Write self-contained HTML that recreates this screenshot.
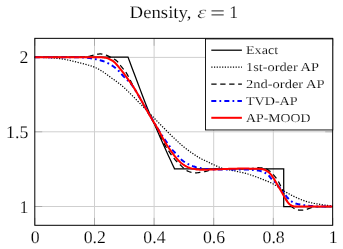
<!DOCTYPE html>
<html><head><meta charset="utf-8"><title>Density</title>
<style>
html,body{margin:0;padding:0;background:#fff;}
body{width:343px;height:249px;overflow:hidden;}
svg{display:block;will-change:transform;text-rendering:geometricPrecision;}
text{font-family:"Liberation Serif",serif;font-size:17.8px;fill:#000;stroke:#fff;stroke-width:0.16px;}
.lg{font-size:12.1px;stroke-width:0.14px;}
.tt{font-size:17.7px;}
.grid line{stroke:#cfcfcf;stroke-width:1;}
.ticks line{stroke:#909090;stroke-width:0.6;}
path{fill:none;stroke-linejoin:round;}
.ex{stroke:#000;stroke-width:1.25;stroke-linejoin:miter;}
.dt{stroke:#000;stroke-width:1.25;stroke-dasharray:1.2 1.5;}
.ds{stroke:#000;stroke-width:1.25;stroke-dasharray:5.3 3.65;}
.bl{stroke:#0000ff;stroke-width:2.0;stroke-dasharray:5.0 3.15 1.75 3.15;}
.rd{stroke:#ff0000;stroke-width:2.0;}
</style></head><body>
<svg width="343" height="249" viewBox="0 0 343 249">
<rect width="343" height="249" fill="#fff"/>
<g class="grid"><line x1="94.5" y1="38.35" x2="94.5" y2="225.3"/><line x1="154.1" y1="38.35" x2="154.1" y2="225.3"/><line x1="213.7" y1="38.35" x2="213.7" y2="225.3"/><line x1="273.3" y1="38.35" x2="273.3" y2="225.3"/><line x1="34.8" y1="206.5" x2="332.65" y2="206.5"/><line x1="34.8" y1="131.8" x2="332.65" y2="131.8"/><line x1="34.8" y1="57.4" x2="332.65" y2="57.4"/></g>
<g class="ticks"><line x1="34.9" y1="225.3" x2="34.9" y2="217.9"/><line x1="34.9" y1="38.35" x2="34.9" y2="45.75"/><line x1="94.5" y1="225.3" x2="94.5" y2="217.9"/><line x1="94.5" y1="38.35" x2="94.5" y2="45.75"/><line x1="154.1" y1="225.3" x2="154.1" y2="217.9"/><line x1="154.1" y1="38.35" x2="154.1" y2="45.75"/><line x1="213.7" y1="225.3" x2="213.7" y2="217.9"/><line x1="213.7" y1="38.35" x2="213.7" y2="45.75"/><line x1="273.3" y1="225.3" x2="273.3" y2="217.9"/><line x1="273.3" y1="38.35" x2="273.3" y2="45.75"/><line x1="332.9" y1="225.3" x2="332.9" y2="217.9"/><line x1="332.9" y1="38.35" x2="332.9" y2="45.75"/><line x1="34.8" y1="206.5" x2="42.199999999999996" y2="206.5"/><line x1="332.65" y1="206.5" x2="325.25" y2="206.5"/><line x1="34.8" y1="131.8" x2="42.199999999999996" y2="131.8"/><line x1="332.65" y1="131.8" x2="325.25" y2="131.8"/><line x1="34.8" y1="57.4" x2="42.199999999999996" y2="57.4"/><line x1="332.65" y1="57.4" x2="325.25" y2="57.4"/></g>
<path class="ex" d="M34.80,57.10 L128.00,57.10 L130.02,62.53 L132.04,67.91 L134.05,73.24 L136.04,78.51 L138.01,83.73 L139.94,88.90 L141.84,94.02 L143.75,99.08 L145.70,104.09 L147.73,109.05 L149.84,113.96 L151.98,118.81 L154.11,123.61 L156.22,128.35 L158.29,133.05 L160.33,137.69 L162.37,142.28 L164.39,146.81 L166.41,151.30 L168.43,155.73 L170.46,160.11 L172.48,164.43 L174.50,168.70 L174.50,168.80 L283.70,168.80 L283.70,206.60 L332.65,206.60"/>
<path class="dt" d="M34.80,57.30 L35.80,57.31 L36.80,57.31 L37.80,57.32 L38.80,57.34 L39.80,57.36 L40.80,57.38 L41.80,57.41 L42.80,57.44 L43.80,57.46 L44.80,57.50 L45.80,57.53 L46.80,57.57 L47.80,57.62 L48.80,57.68 L49.80,57.74 L50.80,57.81 L51.80,57.89 L52.80,57.97 L53.80,58.06 L54.80,58.15 L55.80,58.25 L56.80,58.35 L57.80,58.46 L58.80,58.57 L59.80,58.68 L60.80,58.80 L61.80,58.94 L62.80,59.08 L63.80,59.24 L64.80,59.41 L65.80,59.60 L66.80,59.79 L67.80,59.99 L68.80,60.21 L69.80,60.42 L70.80,60.65 L71.80,60.88 L72.80,61.12 L73.80,61.36 L74.80,61.61 L75.80,61.85 L76.80,62.10 L77.80,62.35 L78.80,62.60 L79.80,62.85 L80.80,63.10 L81.80,63.35 L82.80,63.60 L83.80,63.85 L84.80,64.11 L85.80,64.38 L86.80,64.65 L87.80,64.94 L88.80,65.23 L89.80,65.54 L90.80,65.87 L91.80,66.20 L92.80,66.56 L93.80,66.94 L94.80,67.34 L95.80,67.79 L96.80,68.26 L97.80,68.78 L98.80,69.32 L99.80,69.89 L100.80,70.47 L101.80,71.08 L102.80,71.70 L103.80,72.34 L104.80,73.02 L105.80,73.74 L106.80,74.48 L107.80,75.24 L108.80,76.00 L109.80,76.74 L110.80,77.48 L111.80,78.19 L112.80,78.90 L113.80,79.61 L114.80,80.32 L115.80,81.03 L116.80,81.75 L117.80,82.48 L118.80,83.22 L119.80,83.99 L120.80,84.78 L121.80,85.61 L122.80,86.48 L123.80,87.38 L124.80,88.32 L125.80,89.26 L126.80,90.22 L127.80,91.19 L128.80,92.16 L129.80,93.15 L130.80,94.14 L131.80,95.14 L132.80,96.14 L133.80,97.15 L134.80,98.16 L135.80,99.18 L136.80,100.20 L137.80,101.22 L138.80,102.24 L139.80,103.27 L140.80,104.29 L141.80,105.31 L142.80,106.34 L143.80,107.38 L144.80,108.41 L145.80,109.45 L146.80,110.50 L147.80,111.54 L148.80,112.59 L149.80,113.63 L150.80,114.67 L151.80,115.70 L152.80,116.74 L153.80,117.77 L154.80,118.80 L155.80,119.83 L156.80,120.86 L157.80,121.89 L158.80,122.92 L159.80,123.94 L160.80,124.96 L161.80,125.98 L162.80,126.99 L163.80,128.00 L164.80,129.01 L165.80,130.02 L166.80,131.02 L167.80,132.02 L168.80,133.02 L169.80,134.01 L170.80,134.99 L171.80,135.96 L172.80,136.92 L173.80,137.87 L174.80,138.83 L175.80,139.78 L176.80,140.72 L177.80,141.66 L178.80,142.59 L179.80,143.50 L180.80,144.40 L181.80,145.28 L182.80,146.14 L183.80,146.96 L184.80,147.76 L185.80,148.54 L186.80,149.29 L187.80,150.03 L188.80,150.75 L189.80,151.45 L190.80,152.15 L191.80,152.84 L192.80,153.52 L193.80,154.20 L194.80,154.88 L195.80,155.56 L196.80,156.22 L197.80,156.85 L198.80,157.45 L199.80,158.02 L200.80,158.55 L201.80,159.07 L202.80,159.56 L203.80,160.04 L204.80,160.51 L205.80,160.97 L206.80,161.44 L207.80,161.90 L208.80,162.37 L209.80,162.86 L210.80,163.35 L211.80,163.84 L212.80,164.33 L213.80,164.80 L214.80,165.26 L215.80,165.70 L216.80,166.15 L217.80,166.58 L218.80,167.00 L219.80,167.40 L220.80,167.78 L221.80,168.13 L222.80,168.44 L223.80,168.72 L224.80,168.97 L225.80,169.21 L226.80,169.42 L227.80,169.62 L228.80,169.82 L229.80,170.00 L230.80,170.18 L231.80,170.37 L232.80,170.56 L233.80,170.76 L234.80,170.96 L235.80,171.17 L236.80,171.39 L237.80,171.60 L238.80,171.82 L239.80,172.03 L240.80,172.25 L241.80,172.48 L242.80,172.71 L243.80,172.95 L244.80,173.20 L245.80,173.46 L246.80,173.74 L247.80,174.02 L248.80,174.33 L249.80,174.65 L250.80,174.98 L251.80,175.32 L252.80,175.67 L253.80,176.03 L254.80,176.40 L255.80,176.77 L256.80,177.14 L257.80,177.51 L258.80,177.89 L259.80,178.26 L260.80,178.64 L261.80,179.02 L262.80,179.41 L263.80,179.80 L264.80,180.20 L265.80,180.61 L266.80,181.02 L267.80,181.44 L268.80,181.88 L269.80,182.32 L270.80,182.77 L271.80,183.24 L272.80,183.74 L273.80,184.28 L274.80,184.86 L275.80,185.47 L276.80,186.13 L277.80,186.81 L278.80,187.50 L279.80,188.20 L280.80,188.90 L281.80,189.58 L282.80,190.24 L283.80,190.87 L284.80,191.47 L285.80,192.06 L286.80,192.64 L287.80,193.20 L288.80,193.76 L289.80,194.30 L290.80,194.83 L291.80,195.35 L292.80,195.85 L293.80,196.34 L294.80,196.82 L295.80,197.29 L296.80,197.75 L297.80,198.20 L298.80,198.64 L299.80,199.06 L300.80,199.47 L301.80,199.86 L302.80,200.23 L303.80,200.59 L304.80,200.94 L305.80,201.27 L306.80,201.59 L307.80,201.90 L308.80,202.18 L309.80,202.44 L310.80,202.68 L311.80,202.91 L312.80,203.12 L313.80,203.32 L314.80,203.51 L315.80,203.69 L316.80,203.86 L317.80,204.03 L318.80,204.20 L319.80,204.36 L320.80,204.52 L321.80,204.67 L322.80,204.82 L323.80,204.96 L324.80,205.10 L325.80,205.23 L326.80,205.36 L327.80,205.48 L328.80,205.60 L329.80,205.71 L330.80,205.81 L331.80,205.91 L332.65,205.97 L332.65,205.97"/>
<path class="ds" d="M34.80,57.20 L35.80,57.20 L36.80,57.20 L37.80,57.20 L38.80,57.20 L39.80,57.20 L40.80,57.20 L41.80,57.20 L42.80,57.20 L43.80,57.20 L44.80,57.20 L45.80,57.20 L46.80,57.20 L47.80,57.20 L48.80,57.20 L49.80,57.20 L50.80,57.20 L51.80,57.20 L52.80,57.20 L53.80,57.20 L54.80,57.20 L55.80,57.20 L56.80,57.20 L57.80,57.20 L58.80,57.20 L59.80,57.20 L60.80,57.20 L61.80,57.20 L62.80,57.20 L63.80,57.20 L64.80,57.20 L65.80,57.20 L66.80,57.20 L67.80,57.20 L68.80,57.20 L69.80,57.20 L70.80,57.20 L71.80,57.20 L72.80,57.20 L73.80,57.20 L74.80,57.20 L75.80,57.20 L76.80,57.20 L77.80,57.20 L78.80,57.20 L79.80,57.20 L80.80,57.18 L81.80,57.15 L82.80,57.10 L83.80,57.03 L84.80,56.94 L85.80,56.85 L86.80,56.73 L87.80,56.60 L88.80,56.43 L89.80,56.20 L90.80,55.92 L91.80,55.62 L92.80,55.32 L93.80,55.06 L94.80,54.82 L95.80,54.60 L96.80,54.38 L97.80,54.19 L98.80,54.04 L99.80,53.96 L100.80,53.95 L101.80,54.04 L102.80,54.19 L103.80,54.41 L104.80,54.67 L105.80,54.97 L106.80,55.35 L107.80,55.81 L108.80,56.35 L109.80,56.90 L110.80,57.44 L111.80,57.94 L112.80,58.42 L113.80,58.92 L114.80,59.46 L115.80,60.11 L116.80,60.91 L117.80,61.99 L118.80,63.32 L119.80,64.69 L120.80,65.96 L121.80,67.16 L122.80,68.32 L123.80,69.51 L124.80,70.77 L125.80,72.15 L126.80,73.70 L127.80,75.42 L128.80,77.29 L129.80,79.24 L130.80,81.21 L131.80,83.18 L132.80,85.15 L133.80,87.12 L134.80,89.05 L135.80,90.93 L136.80,92.78 L137.80,94.61 L138.80,96.42 L139.80,98.22 L140.80,100.00 L141.80,101.78 L142.80,103.56 L143.80,105.34 L144.80,107.13 L145.80,108.92 L146.80,110.71 L147.80,112.47 L148.80,114.21 L149.80,115.93 L150.80,117.63 L151.80,119.32 L152.80,121.03 L153.80,122.75 L154.80,124.49 L155.80,126.28 L156.80,128.11 L157.80,129.99 L158.80,131.95 L159.80,134.00 L160.80,136.19 L161.80,138.54 L162.80,140.90 L163.80,143.04 L164.80,144.92 L165.80,146.60 L166.80,148.18 L167.80,149.70 L168.80,151.20 L169.80,152.71 L170.80,154.19 L171.80,155.62 L172.80,156.97 L173.80,158.21 L174.80,159.37 L175.80,160.46 L176.80,161.50 L177.80,162.50 L178.80,163.46 L179.80,164.42 L180.80,165.39 L181.80,166.38 L182.80,167.37 L183.80,168.32 L184.80,169.20 L185.80,169.97 L186.80,170.59 L187.80,171.08 L188.80,171.48 L189.80,171.84 L190.80,172.16 L191.80,172.43 L192.80,172.65 L193.80,172.79 L194.80,172.86 L195.80,172.86 L196.80,172.81 L197.80,172.73 L198.80,172.61 L199.80,172.47 L200.80,172.31 L201.80,172.15 L202.80,171.97 L203.80,171.79 L204.80,171.58 L205.80,171.33 L206.80,171.06 L207.80,170.78 L208.80,170.51 L209.80,170.25 L210.80,170.00 L211.80,169.75 L212.80,169.51 L213.80,169.30 L214.80,169.13 L215.80,169.04 L216.80,168.99 L217.80,168.97 L218.80,168.95 L219.80,168.94 L220.80,168.93 L221.80,168.92 L222.80,168.91 L223.80,168.90 L224.80,168.90 L225.80,168.89 L226.80,168.88 L227.80,168.88 L228.80,168.88 L229.80,168.87 L230.80,168.87 L231.80,168.86 L232.80,168.86 L233.80,168.85 L234.80,168.85 L235.80,168.84 L236.80,168.83 L237.80,168.82 L238.80,168.81 L239.80,168.80 L240.80,168.79 L241.80,168.78 L242.80,168.76 L243.80,168.75 L244.80,168.73 L245.80,168.71 L246.80,168.69 L247.80,168.67 L248.80,168.64 L249.80,168.59 L250.80,168.52 L251.80,168.41 L252.80,168.27 L253.80,168.11 L254.80,167.96 L255.80,167.83 L256.80,167.75 L257.80,167.72 L258.80,167.73 L259.80,167.77 L260.80,167.83 L261.80,167.90 L262.80,168.01 L263.80,168.17 L264.80,168.42 L265.80,168.75 L266.80,169.17 L267.80,169.70 L268.80,170.37 L269.80,171.17 L270.80,172.07 L271.80,173.03 L272.80,174.04 L273.80,175.12 L274.80,176.30 L275.80,177.58 L276.80,178.99 L277.80,180.55 L278.80,182.30 L279.80,184.23 L280.80,186.33 L281.80,188.60 L282.80,191.05 L283.80,193.57 L284.80,195.98 L285.80,198.19 L286.80,200.19 L287.80,201.98 L288.80,203.50 L289.80,204.78 L290.80,205.86 L291.80,206.78 L292.80,207.58 L293.80,208.28 L294.80,208.85 L295.80,209.28 L296.80,209.60 L297.80,209.85 L298.80,210.03 L299.80,210.14 L300.80,210.17 L301.80,210.15 L302.80,210.10 L303.80,210.01 L304.80,209.86 L305.80,209.61 L306.80,209.30 L307.80,208.95 L308.80,208.59 L309.80,208.22 L310.80,207.85 L311.80,207.49 L312.80,207.19 L313.80,206.97 L314.80,206.83 L315.80,206.72 L316.80,206.64 L317.80,206.58 L318.80,206.53 L319.80,206.51 L320.80,206.50 L321.80,206.50 L322.80,206.50 L323.80,206.50 L324.80,206.50 L325.80,206.50 L326.80,206.50 L327.80,206.50 L328.80,206.50 L329.80,206.50 L330.80,206.50 L331.80,206.50 L332.65,206.50 L332.65,206.50"/>
<path class="bl" d="M34.80,57.30 L35.80,57.30 L36.80,57.30 L37.80,57.30 L38.80,57.30 L39.80,57.30 L40.80,57.30 L41.80,57.30 L42.80,57.30 L43.80,57.30 L44.80,57.30 L45.80,57.30 L46.80,57.30 L47.80,57.30 L48.80,57.30 L49.80,57.30 L50.80,57.30 L51.80,57.30 L52.80,57.30 L53.80,57.30 L54.80,57.30 L55.80,57.30 L56.80,57.30 L57.80,57.30 L58.80,57.30 L59.80,57.30 L60.80,57.30 L61.80,57.30 L62.80,57.30 L63.80,57.30 L64.80,57.30 L65.80,57.30 L66.80,57.30 L67.80,57.30 L68.80,57.30 L69.80,57.30 L70.80,57.30 L71.80,57.30 L72.80,57.30 L73.80,57.30 L74.80,57.30 L75.80,57.30 L76.80,57.30 L77.80,57.30 L78.80,57.30 L79.80,57.30 L80.80,57.32 L81.80,57.35 L82.80,57.40 L83.80,57.46 L84.80,57.53 L85.80,57.61 L86.80,57.70 L87.80,57.81 L88.80,57.93 L89.80,58.08 L90.80,58.24 L91.80,58.40 L92.80,58.58 L93.80,58.77 L94.80,58.96 L95.80,59.16 L96.80,59.38 L97.80,59.62 L98.80,59.87 L99.80,60.13 L100.80,60.42 L101.80,60.72 L102.80,61.04 L103.80,61.39 L104.80,61.77 L105.80,62.19 L106.80,62.64 L107.80,63.13 L108.80,63.65 L109.80,64.20 L110.80,64.77 L111.80,65.38 L112.80,66.02 L113.80,66.72 L114.80,67.48 L115.80,68.30 L116.80,69.16 L117.80,70.08 L118.80,71.04 L119.80,72.09 L120.80,73.21 L121.80,74.38 L122.80,75.54 L123.80,76.64 L124.80,77.64 L125.80,78.57 L126.80,79.49 L127.80,80.43 L128.80,81.43 L129.80,82.48 L130.80,83.59 L131.80,84.81 L132.80,86.16 L133.80,87.64 L134.80,89.23 L135.80,90.90 L136.80,92.62 L137.80,94.34 L138.80,96.05 L139.80,97.75 L140.80,99.45 L141.80,101.16 L142.80,102.87 L143.80,104.60 L144.80,106.33 L145.80,108.06 L146.80,109.80 L147.80,111.54 L148.80,113.28 L149.80,115.03 L150.80,116.78 L151.80,118.52 L152.80,120.24 L153.80,121.95 L154.80,123.65 L155.80,125.34 L156.80,127.02 L157.80,128.68 L158.80,130.33 L159.80,131.95 L160.80,133.54 L161.80,135.10 L162.80,136.62 L163.80,138.10 L164.80,139.55 L165.80,140.99 L166.80,142.42 L167.80,143.84 L168.80,145.25 L169.80,146.62 L170.80,147.94 L171.80,149.20 L172.80,150.37 L173.80,151.45 L174.80,152.45 L175.80,153.46 L176.80,154.54 L177.80,155.68 L178.80,156.83 L179.80,157.95 L180.80,158.99 L181.80,159.93 L182.80,160.76 L183.80,161.50 L184.80,162.17 L185.80,162.79 L186.80,163.38 L187.80,163.94 L188.80,164.45 L189.80,164.92 L190.80,165.35 L191.80,165.75 L192.80,166.13 L193.80,166.48 L194.80,166.81 L195.80,167.12 L196.80,167.39 L197.80,167.64 L198.80,167.87 L199.80,168.08 L200.80,168.27 L201.80,168.45 L202.80,168.61 L203.80,168.75 L204.80,168.87 L205.80,168.98 L206.80,169.08 L207.80,169.18 L208.80,169.27 L209.80,169.36 L210.80,169.43 L211.80,169.49 L212.80,169.54 L213.80,169.58 L214.80,169.59 L215.80,169.60 L216.80,169.60 L217.80,169.60 L218.80,169.60 L219.80,169.60 L220.80,169.60 L221.80,169.60 L222.80,169.60 L223.80,169.60 L224.80,169.60 L225.80,169.60 L226.80,169.60 L227.80,169.60 L228.80,169.60 L229.80,169.60 L230.80,169.60 L231.80,169.60 L232.80,169.60 L233.80,169.60 L234.80,169.60 L235.80,169.60 L236.80,169.60 L237.80,169.60 L238.80,169.60 L239.80,169.60 L240.80,169.60 L241.80,169.60 L242.80,169.60 L243.80,169.60 L244.80,169.60 L245.80,169.60 L246.80,169.60 L247.80,169.62 L248.80,169.64 L249.80,169.68 L250.80,169.74 L251.80,169.80 L252.80,169.88 L253.80,169.98 L254.80,170.08 L255.80,170.19 L256.80,170.31 L257.80,170.45 L258.80,170.62 L259.80,170.85 L260.80,171.16 L261.80,171.52 L262.80,171.92 L263.80,172.33 L264.80,172.77 L265.80,173.24 L266.80,173.81 L267.80,174.56 L268.80,175.56 L269.80,176.77 L270.80,178.05 L271.80,179.23 L272.80,180.21 L273.80,181.05 L274.80,181.92 L275.80,182.93 L276.80,184.09 L277.80,185.33 L278.80,186.61 L279.80,187.92 L280.80,189.22 L281.80,190.49 L282.80,191.73 L283.80,192.97 L284.80,194.24 L285.80,195.54 L286.80,196.80 L287.80,197.98 L288.80,199.04 L289.80,199.98 L290.80,200.82 L291.80,201.57 L292.80,202.18 L293.80,202.68 L294.80,203.09 L295.80,203.44 L296.80,203.75 L297.80,204.03 L298.80,204.27 L299.80,204.49 L300.80,204.68 L301.80,204.86 L302.80,205.02 L303.80,205.17 L304.80,205.31 L305.80,205.43 L306.80,205.55 L307.80,205.67 L308.80,205.78 L309.80,205.88 L310.80,205.99 L311.80,206.09 L312.80,206.19 L313.80,206.28 L314.80,206.34 L315.80,206.38 L316.80,206.41 L317.80,206.42 L318.80,206.43 L319.80,206.44 L320.80,206.45 L321.80,206.46 L322.80,206.47 L323.80,206.47 L324.80,206.48 L325.80,206.48 L326.80,206.49 L327.80,206.49 L328.80,206.49 L329.80,206.50 L330.80,206.50 L331.80,206.50 L332.65,206.50 L332.65,206.50"/>
<path class="rd" d="M34.80,57.30 L35.80,57.30 L36.80,57.30 L37.80,57.30 L38.80,57.30 L39.80,57.30 L40.80,57.30 L41.80,57.30 L42.80,57.30 L43.80,57.30 L44.80,57.30 L45.80,57.30 L46.80,57.30 L47.80,57.30 L48.80,57.30 L49.80,57.30 L50.80,57.30 L51.80,57.30 L52.80,57.30 L53.80,57.30 L54.80,57.30 L55.80,57.30 L56.80,57.30 L57.80,57.30 L58.80,57.30 L59.80,57.30 L60.80,57.30 L61.80,57.30 L62.80,57.30 L63.80,57.30 L64.80,57.30 L65.80,57.30 L66.80,57.30 L67.80,57.30 L68.80,57.30 L69.80,57.30 L70.80,57.30 L71.80,57.30 L72.80,57.30 L73.80,57.30 L74.80,57.30 L75.80,57.30 L76.80,57.30 L77.80,57.30 L78.80,57.30 L79.80,57.30 L80.80,57.30 L81.80,57.30 L82.80,57.30 L83.80,57.30 L84.80,57.30 L85.80,57.30 L86.80,57.30 L87.80,57.30 L88.80,57.30 L89.80,57.30 L90.80,57.30 L91.80,57.30 L92.80,57.30 L93.80,57.30 L94.80,57.30 L95.80,57.30 L96.80,57.30 L97.80,57.30 L98.80,57.30 L99.80,57.31 L100.80,57.33 L101.80,57.37 L102.80,57.45 L103.80,57.55 L104.80,57.67 L105.80,57.84 L106.80,58.07 L107.80,58.40 L108.80,58.81 L109.80,59.27 L110.80,59.77 L111.80,60.31 L112.80,60.92 L113.80,61.64 L114.80,62.52 L115.80,63.57 L116.80,64.74 L117.80,65.94 L118.80,67.12 L119.80,68.32 L120.80,69.54 L121.80,70.80 L122.80,72.11 L123.80,73.45 L124.80,74.82 L125.80,76.19 L126.80,77.58 L127.80,78.96 L128.80,80.33 L129.80,81.70 L130.80,83.09 L131.80,84.54 L132.80,86.05 L133.80,87.61 L134.80,89.22 L135.80,90.87 L136.80,92.55 L137.80,94.26 L138.80,96.00 L139.80,97.75 L140.80,99.52 L141.80,101.31 L142.80,103.09 L143.80,104.88 L144.80,106.66 L145.80,108.44 L146.80,110.22 L147.80,112.00 L148.80,113.76 L149.80,115.48 L150.80,117.17 L151.80,118.84 L152.80,120.50 L153.80,122.15 L154.80,123.80 L155.80,125.46 L156.80,127.15 L157.80,128.87 L158.80,130.62 L159.80,132.43 L160.80,134.30 L161.80,136.25 L162.80,138.19 L163.80,140.03 L164.80,141.75 L165.80,143.38 L166.80,144.95 L167.80,146.47 L168.80,147.95 L169.80,149.41 L170.80,150.85 L171.80,152.27 L172.80,153.66 L173.80,154.99 L174.80,156.26 L175.80,157.47 L176.80,158.63 L177.80,159.75 L178.80,160.81 L179.80,161.81 L180.80,162.72 L181.80,163.54 L182.80,164.28 L183.80,164.97 L184.80,165.59 L185.80,166.16 L186.80,166.66 L187.80,167.10 L188.80,167.49 L189.80,167.85 L190.80,168.17 L191.80,168.44 L192.80,168.68 L193.80,168.89 L194.80,169.07 L195.80,169.24 L196.80,169.40 L197.80,169.53 L198.80,169.62 L199.80,169.67 L200.80,169.69 L201.80,169.69 L202.80,169.69 L203.80,169.68 L204.80,169.67 L205.80,169.66 L206.80,169.65 L207.80,169.63 L208.80,169.62 L209.80,169.60 L210.80,169.58 L211.80,169.56 L212.80,169.53 L213.80,169.49 L214.80,169.45 L215.80,169.41 L216.80,169.36 L217.80,169.32 L218.80,169.27 L219.80,169.22 L220.80,169.17 L221.80,169.13 L222.80,169.08 L223.80,169.04 L224.80,169.01 L225.80,168.97 L226.80,168.94 L227.80,168.90 L228.80,168.87 L229.80,168.83 L230.80,168.80 L231.80,168.76 L232.80,168.73 L233.80,168.70 L234.80,168.67 L235.80,168.65 L236.80,168.63 L237.80,168.62 L238.80,168.61 L239.80,168.60 L240.80,168.60 L241.80,168.60 L242.80,168.60 L243.80,168.60 L244.80,168.61 L245.80,168.61 L246.80,168.61 L247.80,168.62 L248.80,168.62 L249.80,168.63 L250.80,168.63 L251.80,168.64 L252.80,168.64 L253.80,168.65 L254.80,168.66 L255.80,168.67 L256.80,168.68 L257.80,168.70 L258.80,168.74 L259.80,168.81 L260.80,168.93 L261.80,169.09 L262.80,169.29 L263.80,169.53 L264.80,169.86 L265.80,170.31 L266.80,170.88 L267.80,171.57 L268.80,172.37 L269.80,173.31 L270.80,174.41 L271.80,175.67 L272.80,177.04 L273.80,178.53 L274.80,180.16 L275.80,181.91 L276.80,183.70 L277.80,185.45 L278.80,187.14 L279.80,188.80 L280.80,190.49 L281.80,192.23 L282.80,194.04 L283.80,195.88 L284.80,197.66 L285.80,199.35 L286.80,200.92 L287.80,202.32 L288.80,203.49 L289.80,204.44 L290.80,205.20 L291.80,205.75 L292.80,206.10 L293.80,206.34 L294.80,206.49 L295.80,206.57 L296.80,206.59 L297.80,206.60 L298.80,206.60 L299.80,206.60 L300.80,206.60 L301.80,206.60 L302.80,206.60 L303.80,206.60 L304.80,206.60 L305.80,206.60 L306.80,206.60 L307.80,206.60 L308.80,206.60 L309.80,206.60 L310.80,206.60 L311.80,206.60 L312.80,206.60 L313.80,206.60 L314.80,206.60 L315.80,206.60 L316.80,206.60 L317.80,206.60 L318.80,206.60 L319.80,206.60 L320.80,206.60 L321.80,206.60 L322.80,206.60 L323.80,206.60 L324.80,206.60 L325.80,206.60 L326.80,206.60 L327.80,206.60 L328.80,206.60 L329.80,206.60 L330.80,206.60 L331.80,206.60 L332.65,206.60 L332.65,206.60"/>
<rect x="34.8" y="38.35" width="297.84999999999997" height="186.95000000000002" fill="none" stroke="#000" stroke-width="1"/>
<rect x="205.5" y="38.9" width="127.25" height="91.04999999999998" fill="#fff" stroke="#000" stroke-width="0.9"/><path class="ex" d="M211.3,50.2 L241.9,50.2"/><text class="lg" x="246" y="53.7" textLength="32.1" lengthAdjust="spacingAndGlyphs">Exact</text><path class="dt" d="M211.3,67.1 L241.9,67.1"/><text class="lg" x="246" y="70.65" textLength="72.9" lengthAdjust="spacingAndGlyphs">1st-order AP</text><path class="ds" d="M211.3,84.1 L241.9,84.1"/><text class="lg" x="246" y="87.6" textLength="78.5" lengthAdjust="spacingAndGlyphs">2nd-order AP</text><path class="bl" d="M211.3,100.9 L241.9,100.9"/><text class="lg" x="246" y="104.6" textLength="51.6" lengthAdjust="spacingAndGlyphs">TVD-AP</text><path class="rd" d="M211.3,117.8 L241.9,117.8"/><text class="lg" x="246" y="121.55" textLength="64.4" lengthAdjust="spacingAndGlyphs">AP-MOOD</text>
<g><text transform="translate(35.2,243) scale(1,1)" text-anchor="middle">0</text><text transform="translate(94.8,243) scale(1,1)" text-anchor="middle">0.2</text><text transform="translate(154.4,243) scale(1,1)" text-anchor="middle">0.4</text><text transform="translate(214.0,243) scale(1,1)" text-anchor="middle">0.6</text><text transform="translate(273.6,243) scale(1,1)" text-anchor="middle">0.8</text><text transform="translate(333.2,243) scale(1,1)" text-anchor="middle">1</text><text transform="translate(28.3,212.6) scale(1,1)" text-anchor="end">1</text><text transform="translate(28.3,137.9) scale(1,1)" text-anchor="end">1.5</text><text transform="translate(28.3,63.2) scale(1,1)" text-anchor="end">2</text></g>
<text class="tt" x="129.6" y="18" textLength="61.8" lengthAdjust="spacingAndGlyphs">Density,</text>
<text class="tt" x="197.2" y="18" font-style="italic" style="stroke-width:0.4px" textLength="9" lengthAdjust="spacingAndGlyphs">ε</text>
<path d="M211.5,10.9 H223.7 M211.5,14.9 H223.7" stroke="#000" stroke-width="0.85"/>
<text class="tt" x="229.3" y="18">1</text>
</svg>
</body></html>
